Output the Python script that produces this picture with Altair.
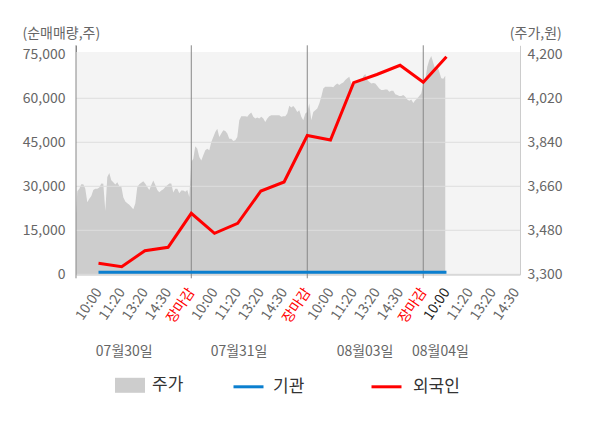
import json
import altair as alt
import pandas as pd

# ---------------- data ----------------
time_labels = ["10:00", "11:20", "13:20", "14:30", "장마감",
               "10:00", "11:20", "13:20", "14:30", "장마감",
               "10:00", "11:20", "13:20", "14:30", "장마감",
               "10:00", "11:20", "13:20", "14:30"]
day_labels = ["07월30일", "07월31일", "08월03일", "08월04일"]
day_label_slot = [2.11, 7.06, 12.49, 15.74]
day_boundaries = [0.03, 5, 10, 15]

flow_slots = [1, 2, 3, 4, 5, 6, 7, 8, 9, 10, 11, 12, 13, 14, 15, 16]
institution = [700, 700, 700, 700, 700, 700, 700, 700,
               700, 700, 700, 700, 700, 700, 700, 700]
foreigner = [3750, 2590, 8050, 9200, 20800, 13980, 17390, 28400,
             31460, 47320, 45780, 65320, 68110, 71250, 65450, 74180]

price_day1 = [3495, 3640, 3650, 3668, 3668, 3650, 3595, 3609, 3620, 3645,
              3650, 3650, 3655, 3671, 3670, 3560, 3698, 3714, 3685, 3677,
              3667, 3677, 3660, 3660, 3615, 3598, 3591, 3584, 3575, 3566,
              3590, 3657, 3668, 3675, 3681, 3670, 3657, 3645, 3665, 3684,
              3665, 3645, 3636, 3643, 3648, 3657, 3664, 3671, 3671, 3635,
              3650, 3650, 3632, 3643, 3643, 3638, 3645, 3616]
price_day2 = [3759, 3773, 3824, 3814, 3780, 3766, 3787, 3807, 3814, 3807,
              3841, 3862, 3882, 3895, 3862, 3876, 3889, 3886, 3876, 3855,
              3855, 3845, 3848, 3862, 3930, 3947, 3947, 3947, 3944, 3955,
              3962, 3944, 3937, 3941, 3937, 3944, 3937, 3923, 3937, 3947,
              3951, 3951, 3951, 3951, 3951, 3944, 3947, 3947, 3958, 3989,
              3982, 3988, 3978, 3964, 3971, 3944, 3930, 3958]
price_day3 = [3964, 3999, 3930, 3964, 3971, 3978, 3999, 4026, 4060, 4067,
              4067, 4067, 4067, 4065, 4074, 4081, 4074, 4081, 4085, 4095,
              4102, 4108, 4081, 4081, 4088, 4088, 4095, 4088, 4110, 4119,
              4095, 4088, 4081, 4083, 4081, 4070, 4060, 4054, 4054, 4056,
              4056, 4047, 4051, 4051, 4037, 4033, 4029, 4029, 4033, 4026,
              4015, 4010, 4015, 4001, 4012, 4019, 4029, 4040]
price_day4 = [4080, 4095, 4149, 4177, 4193, 4165, 4140, 4152, 4129, 4102,
              4100, 4112]

left_ticks = [0, 15000, 30000, 45000, 60000, 75000]
grid_values = [0, 15000, 30000, 45000, 60000]
right_ticks = [3300, 3480, 3660, 3840, 4020, 4200]

# ---------------- tables ----------------
SAMPLES_PER_DAY = 58
rows = []
for d, arr in enumerate([price_day1, price_day2, price_day3, price_day4]):
    for i, v in enumerate(arr):
        rows.append({"s": 5 * d + 5 * i / SAMPLES_PER_DAY, "p": v, "k": "주가"})
area_df = pd.DataFrame(rows)
inst_df = pd.DataFrame({"s": flow_slots, "v": institution, "n": "기관"})
for_df = pd.DataFrame({"s": flow_slots, "v": foreigner, "n2": "외국인"})
day_df = pd.DataFrame({"s": day_label_slot, "label": day_labels})
bound_df = pd.DataFrame({"s": day_boundaries})
grid_df = pd.DataFrame({"v": grid_values})

W, H = 444, 229
FONT = "Noto Sans CJK KR"

label_expr = json.dumps(time_labels, ensure_ascii=False) + "[datum.value - 1]"
x_axis = alt.Axis(
    values=list(range(1, 20)), labelExpr=label_expr, labelAngle=-56,
    labelFontSize=14, labelPadding=15, ticks=False, grid=False,
    domainColor="#999999", labelOverlap=False, labelFlush=False, labelBound=False,
    labelColor={"condition": [{"test": "datum.value % 5 === 0", "value": "#ff0000"},
                              {"test": "datum.value === 16", "value": "#222222"}],
                "value": "#666666"},
    title=None)
X = alt.X("s:Q", scale=alt.Scale(domain=[0.03, 19.17], nice=False, zero=False), axis=x_axis)

y_left = alt.Y("v:Q", scale=alt.Scale(domain=[0, 78070], nice=False, zero=False),
               axis=alt.Axis(orient="left", values=left_ticks, format=",.0f", grid=False,
                             ticks=False, labelPadding=11, labelFontSize=14,
                             labelColor="#666666", domainColor="#888888",
                             title="(순매매량,주)", titleAngle=0, titleAlign="left",
                             titleBaseline="middle", titleX=-54, titleY=-12,
                             titleFontSize=14, titleFontWeight="normal",
                             titleColor="#666666"))
y_right = alt.Y("p:Q", scale=alt.Scale(domain=[3300, 4236.8], nice=False, zero=False),
                axis=alt.Axis(orient="right", values=right_ticks, format=",.0f", grid=False,
                              ticks=False, labelPadding=7, labelFontSize=14,
                              labelColor="#666666", domainColor="#cccccc",
                              title="(주가,원)", titleAngle=0, titleAlign="left",
                              titleBaseline="middle", titleX=-10.7, titleY=-12,
                              titleFontSize=14, titleFontWeight="normal",
                              titleColor="#666666"))

bg = alt.Chart(pd.DataFrame({"k": [0]})).mark_rect(color="#f4f4f4").encode(
    x=alt.value(0), x2=alt.value(W), y=alt.value(6.7), y2=alt.value(H))

area = alt.Chart(area_df).mark_area(clip=True, opacity=1).encode(
    x=X, y=y_right, y2=alt.value(H),
    fill=alt.Fill("k:N", scale=alt.Scale(domain=["주가"], range=["#cdcdcd"]),
                  legend=alt.Legend(orient="none", legendX=39, legendY=325, title=None,
                                    labelFontSize=17, labelColor="#333333",
                                    symbolType="M-1,-0.5H1V0.5H-1Z", symbolSize=900,
                                    labelOffset=7, padding=0, symbolOpacity=1,
                                    symbolStrokeWidth=0)))

grid = alt.Chart(grid_df).mark_rule(color="#dddddd", strokeWidth=1).encode(y=y_left)
bounds = alt.Chart(bound_df).mark_rule(color="#888888", strokeWidth=1).encode(
    x=X, y=alt.value(0), y2=alt.value(H + 4))

blue = alt.Chart(inst_df).mark_line(strokeWidth=3).encode(
    x=X, y=y_left,
    stroke=alt.Stroke("n:N", scale=alt.Scale(domain=["기관"], range=["#0b7fcf"]),
                      legend=alt.Legend(orient="none", legendX=156, legendY=325, title=None,
                                        labelFontSize=17, labelColor="#333333",
                                        symbolType="stroke", symbolSize=900,
                                        symbolStrokeWidth=3, labelOffset=8, padding=0)))
red = alt.Chart(for_df).mark_line(strokeWidth=3).encode(
    x=X, y=y_left,
    color=alt.Color("n2:N", scale=alt.Scale(domain=["외국인"], range=["#ff0000"]),
                    legend=alt.Legend(orient="none", legendX=294, legendY=325, title=None,
                                      labelFontSize=17, labelColor="#333333",
                                      symbolType="stroke", symbolSize=900,
                                      symbolStrokeWidth=3, labelOffset=10, padding=0)))
days = alt.Chart(day_df).mark_text(fontSize=14, color="#666666").encode(
    x=X, y=alt.value(307), text="label:N")

left_group = alt.layer(grid, bounds, blue, red, days)

chart = alt.layer(bg, area, left_group).resolve_scale(y="independent").properties(
    width=W, height=H,
    padding={"left": 68, "top": 37.3, "right": 72, "bottom": 140},
    autosize=alt.AutoSizeParams(type="none"),
).configure(font=FONT).configure_view(stroke=None)

chart.save("out.html", embed_options={"renderer": "svg", "actions": False})
